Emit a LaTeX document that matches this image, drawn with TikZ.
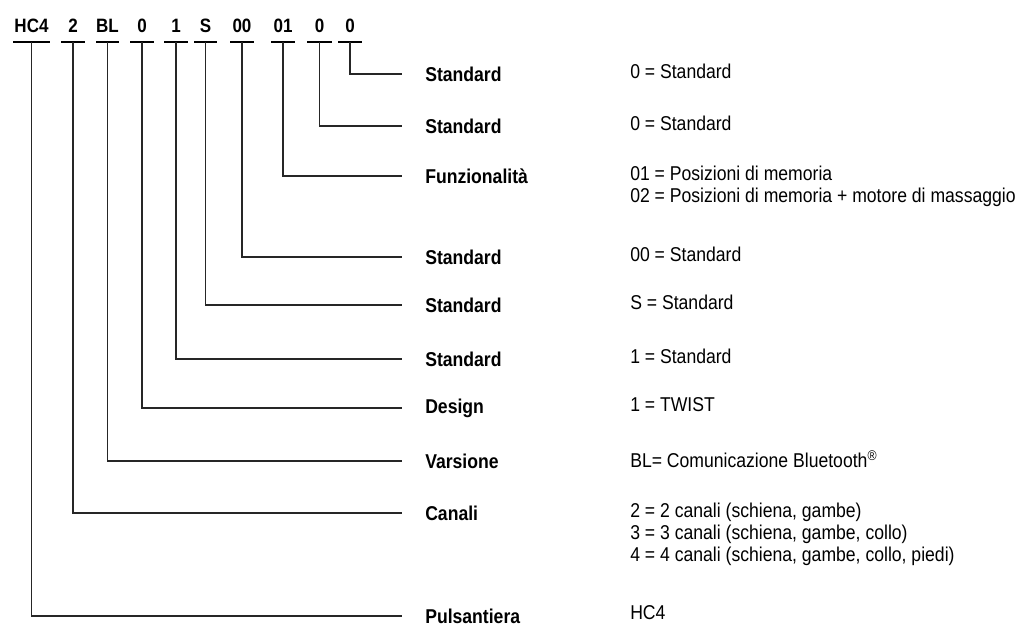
\documentclass[tikz,border=0pt]{standalone}
\usepackage{fontspec}
\setmainfont{Liberation Sans}[FakeStretch=0.88]
\usetikzlibrary{calc}
\tikzset{
  x=0.75pt, y=-0.75pt,
  code/.style={font=\fontsize{14.5}{16}\selectfont\bfseries, anchor=base, inner sep=0pt},
  bar/.style={fill=black, draw=none, minimum height=2.1pt, inner sep=0pt, minimum width=#1*0.75pt},
  lab/.style={font=\fontsize{15}{16.5}\selectfont\bfseries, anchor=west, inner sep=0pt},
  desc/.style={font=\fontsize{15}{16.5}\selectfont, anchor=north west, inner sep=0pt, align=left},
  conn/.style={draw=black!85, line width=0.8pt},
}
\begin{document}
\begin{tikzpicture}
\useasboundingbox (0,0) rectangle (1032,628);
% codes
\node[code] (c1) at (31.5,32.5) {HC4};
\node[code] (c2) at (73,32.5) {2};
\node[code] (c3) at (107.5,32.5) {BL};
\node[code] (c4) at (142,32.5) {0};
\node[code] (c5) at (176,32.5) {1};
\node[code] (c6) at (205.5,32.5) {S};
\node[code] (c7) at (242,32.5) {00};
\node[code] (c8) at (283,32.5) {01};
\node[code] (c9) at (319.5,32.5) {0};
\node[code] (c10) at (350,32.5) {0};
% bars
\node[bar=37] (b1) at (31.5,42) {};
\node[bar=24] (b2) at (73,42) {};
\node[bar=23] (b3) at (107.5,42) {};
\node[bar=24] (b4) at (142,42) {};
\node[bar=24] (b5) at (176,42) {};
\node[bar=23] (b6) at (205.5,42) {};
\node[bar=24] (b7) at (242,42) {};
\node[bar=24] (b8) at (283,42) {};
\node[bar=25] (b9) at (319.5,42) {};
\node[bar=24] (b10) at (350,42) {};
% labels
\node[lab] (l10) at (425,74) {Standard};
\node[lab] (l9) at (425,126) {Standard};
\node[lab] (l8) at (425,176) {Funzionalità};
\node[lab] (l7) at (425,257) {Standard};
\node[lab] (l6) at (425,305) {Standard};
\node[lab] (l5) at (425,359) {Standard};
\node[lab] (l4) at (425,408) {Design};
\node[lab] (l3) at (425,461) {Varsione};
\node[lab] (l2) at (425,513) {Canali};
\node[lab] (l1) at (425,616) {Pulsantiera};
% descriptions
\node[desc] (d10) at (630,63.5) {0 = Standard};
\node[desc] (d9) at (630,115.5) {0 = Standard};
\node[desc] (d8) at (630,165.5) {01 = Posizioni di memoria\\02 = Posizioni di memoria + motore di massaggio};
\node[desc] (d7) at (630,246.5) {00 = Standard};
\node[desc] (d6) at (630,294.5) {S = Standard};
\node[desc] (d5) at (630,348.5) {1 = Standard};
\node[desc] (d4) at (630,397.5) {1 = TWIST};
\node[desc] (d3) at (630,450.5) {BL= Comunicazione Bluetooth\textsuperscript{®}};
\node[desc] (d2) at (630,502.5) {2 = 2 canali (schiena, gambe)\\3 = 3 canali (schiena, gambe, collo)\\4 = 4 canali (schiena, gambe, collo, piedi)};
\node[desc] (d1) at (630,605.5) {HC4};
% connectors
\foreach \i in {1,...,10}{
  \draw[conn] (b\i.center) |- ([xshift=-17pt]l\i.west);
}
\end{tikzpicture}
\end{document}
